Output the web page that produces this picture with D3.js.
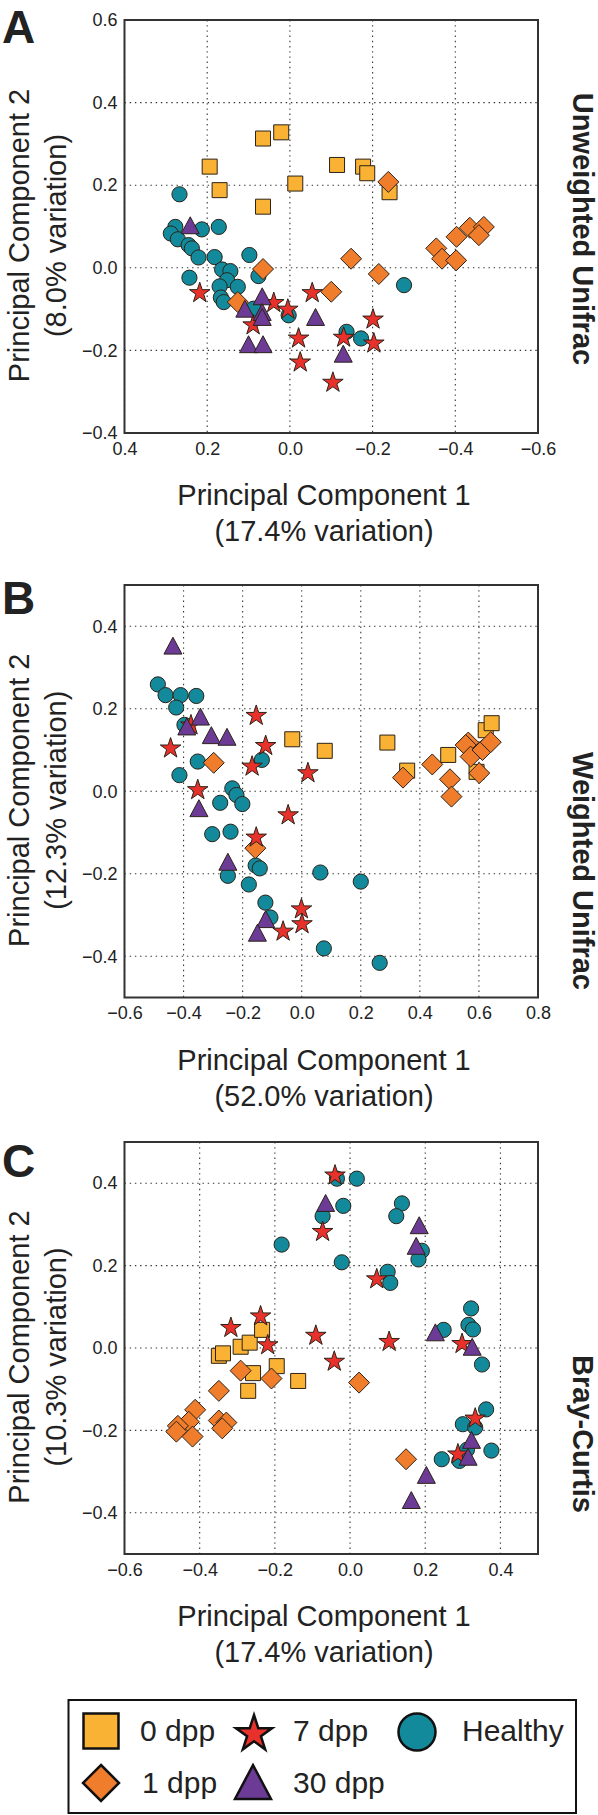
<!DOCTYPE html>
<html><head><meta charset="utf-8">
<script src="https://cdn.jsdelivr.net/npm/d3@7"></script>
<style>
body{margin:0;background:#fff}
svg{display:block}
text{font-family:"Liberation Sans",Arial,Helvetica,sans-serif;fill:#222}
</style>
</head><body>
<svg id="chart" width="598" height="1815"></svg>
<script>
// ---------- categories ----------
const groups = ["0 dpp", "1 dpp", "7 dpp", "30 dpp", "Healthy"];
const groupColors = ["#f9b233", "#f07d2c", "#e9312b", "#6c3b96", "#138a9b"];

// ---------- tick labels ----------
const aXTicks = [0.4, 0.2, 0.0, -0.2, -0.4, -0.6];
const aYTicks = [-0.4, -0.2, 0.0, 0.2, 0.4, 0.6];
const bXTicks = [-0.6, -0.4, -0.2, 0.0, 0.2, 0.4, 0.6, 0.8];
const bYTicks = [-0.4, -0.2, 0.0, 0.2, 0.4];
const cXTicks = [-0.6, -0.4, -0.2, 0.0, 0.2, 0.4];
const cYTicks = [-0.4, -0.2, 0.0, 0.2, 0.4];

// ---------- titles ----------
const panelLetters = ["A", "B", "C"];
const methodNames = ["Unweighted Unifrac", "Weighted Unifrac", "Bray-Curtis"];
const xTitles = [["Principal Component 1", "(17.4% variation)"], ["Principal Component 1", "(52.0% variation)"], ["Principal Component 1", "(17.4% variation)"]];
const yTitles = [["Principal Component 2", "(8.0% variation)"], ["Principal Component 2", "(12.3% variation)"], ["Principal Component 2", "(10.3% variation)"]];

// ---------- Panel A: Unweighted Unifrac ----------
const a0dpp = [[0.194,0.245],[0.170,0.188],[0.065,0.313],[0.021,0.328],[0.065,0.148],[-0.013,0.204],[-0.114,0.249],[-0.177,0.245],[-0.187,0.229],[-0.241,0.183]];
const a1dpp = [[-0.238,0.208],[-0.403,0.075],[-0.435,0.097],[-0.469,0.099],[-0.457,0.079],[-0.354,0.047],[-0.368,0.022],[-0.402,0.018],[-0.148,0.022],[-0.215,-0.015],[-0.100,-0.058],[0.065,-0.003],[0.126,-0.083]];
const a7dpp = [[0.218,-0.061],[0.039,-0.085],[0.005,-0.101],[-0.054,-0.061],[0.089,-0.139],[-0.021,-0.171],[-0.025,-0.229],[-0.104,-0.278],[-0.201,-0.125],[-0.130,-0.169],[-0.203,-0.183]];
const a30dpp = [[0.241,0.103],[0.067,-0.069],[0.109,-0.099],[0.067,-0.107],[0.067,-0.119],[0.100,-0.185],[0.065,-0.185],[-0.062,-0.119],[-0.129,-0.208]];
const aHealthy = [[0.267,0.178],[0.277,0.099],[0.288,0.083],[0.271,0.069],[0.213,0.093],[0.172,0.099],[0.245,0.055],[0.237,0.047],[0.221,0.025],[0.182,0.026],[0.098,0.031],[0.164,-0.004],[0.144,-0.008],[0.243,-0.024],[0.152,-0.030],[0.170,-0.045],[0.126,-0.046],[0.167,-0.072],[0.160,-0.083],[0.076,-0.020],[0.088,-0.099],[0.003,-0.115],[-0.276,-0.042],[-0.137,-0.155],[-0.172,-0.171]];

// ---------- Panel B: Weighted Unifrac ----------
const b0dpp = [[-0.032,0.126],[0.078,0.098],[0.290,0.118],[0.357,0.050],[0.496,0.088],[0.623,0.148],[0.643,0.165],[0.592,0.047]];
const b1dpp = [[-0.298,0.069],[-0.157,-0.138],[0.343,0.033],[0.442,0.065],[0.502,0.029],[0.507,-0.013],[0.564,0.118],[0.555,0.112],[0.572,0.084],[0.612,0.100],[0.640,0.119],[0.601,0.044]];
const b7dpp = [[-0.444,0.104],[-0.375,0.160],[-0.352,0.003],[-0.154,0.183],[-0.122,0.110],[-0.168,0.060],[0.021,0.044],[-0.046,-0.058],[-0.154,-0.112],[-0.001,-0.286],[0.001,-0.322],[-0.063,-0.340]];
const b30dpp = [[-0.436,0.353],[-0.389,0.157],[-0.343,0.181],[-0.306,0.136],[-0.253,0.132],[-0.348,-0.041],[-0.250,-0.171],[-0.122,-0.310],[-0.150,-0.343]];
const bHealthy = [[-0.487,0.259],[-0.461,0.233],[-0.410,0.233],[-0.357,0.231],[-0.425,0.203],[-0.397,0.161],[-0.352,0.072],[-0.414,0.039],[-0.135,0.076],[-0.235,0.007],[-0.221,-0.009],[-0.201,-0.031],[-0.276,-0.028],[-0.303,-0.104],[-0.241,-0.098],[-0.156,-0.180],[-0.142,-0.187],[-0.250,-0.205],[-0.179,-0.226],[-0.123,-0.270],[-0.106,-0.306],[0.063,-0.197],[0.075,-0.381],[0.200,-0.219],[0.264,-0.416]];

// ---------- Panel C: Bray-Curtis ----------
const c0dpp = [[-0.349,-0.019],[-0.338,-0.013],[-0.291,0.003],[-0.267,0.013],[-0.234,0.044],[-0.195,-0.044],[-0.258,-0.061],[-0.271,-0.104],[-0.138,-0.080]];
const c1dpp = [[0.024,-0.084],[0.149,-0.270],[-0.291,-0.055],[-0.209,-0.074],[-0.349,-0.104],[-0.412,-0.150],[-0.429,-0.179],[-0.458,-0.189],[-0.462,-0.203],[-0.419,-0.215],[-0.349,-0.176],[-0.329,-0.181],[-0.340,-0.195]];
const c7dpp = [[-0.040,0.419],[-0.073,0.282],[-0.317,0.049],[-0.238,0.077],[-0.219,0.007],[-0.091,0.030],[-0.042,-0.033],[0.071,0.167],[0.104,0.015],[0.298,0.010],[0.333,-0.171],[0.287,-0.258]];
const c30dpp = [[-0.065,0.352],[0.184,0.298],[0.176,0.248],[0.227,0.038],[0.325,0.003],[0.323,-0.223],[0.314,-0.264],[0.203,-0.308],[0.163,-0.369]];
const cHealthy = [[-0.182,0.251],[-0.073,0.320],[-0.035,0.411],[-0.022,0.208],[0.018,0.411],[-0.018,0.345],[0.138,0.351],[0.123,0.320],[0.191,0.236],[0.182,0.215],[0.100,0.185],[0.107,0.158],[0.249,0.044],[0.322,0.096],[0.315,0.056],[0.327,0.045],[0.351,-0.040],[0.362,-0.149],[0.300,-0.185],[0.333,-0.193],[0.376,-0.249],[0.244,-0.270],[0.291,-0.274],[0.311,-0.247]];

// ---------- marker shapes ----------
function shapePath(kind, s) {
  if (kind === "square") return `M${-s},${-s}H${s}V${s}H${-s}Z`;
  if (kind === "diamond") return `M0,${-s}L${s},0L0,${s}L${-s},0Z`;
  if (kind === "triangle") { const w = s, h = s * 0.94; return `M0,${-h}L${w},${h}L${-w},${h}Z`; }
  if (kind === "star") {
    const pts = [];
    for (let i = 0; i < 10; i++) {
      const r = i % 2 === 0 ? s : s * 0.382;
      const a = -Math.PI / 2 + i * Math.PI / 5;
      pts.push([r * Math.cos(a), r * Math.sin(a)]);
    }
    return "M" + pts.map(p => p[0].toFixed(2) + "," + p[1].toFixed(2)).join("L") + "Z";
  }
  return `M${s},0A${s},${s},0,1,1,${-s},0A${s},${s},0,1,1,${s},0Z`;
}
const groupShapes = ["square", "diamond", "star", "triangle", "circle"];
const plotSizes = [7.5, 10.5, 10.8, 9, 7.6];
const legendSizes = [17.5, 18, 19, 18, 18.5];

const svg = d3.select("#chart");
const L = 124.5, R = 538;
const fmt = d3.format(".1f");

const panels = [
  {top: 20, bottom: 433, xDom: [0.4, -0.6], yDom: [-0.4, 0.6], xt: aXTicks, yt: aYTicks,
   series: [a0dpp, a1dpp, a7dpp, a30dpp, aHealthy], letterY: 43, methodY: 229},
  {top: 585, bottom: 997.5, xDom: [-0.6, 0.8], yDom: [-0.5, 0.5], xt: bXTicks, yt: bYTicks,
   series: [b0dpp, b1dpp, b7dpp, b30dpp, bHealthy], letterY: 614, methodY: 871},
  {top: 1142, bottom: 1554, xDom: [-0.6, 0.5], yDom: [-0.5, 0.5], xt: cXTicks, yt: cYTicks,
   series: [c0dpp, c1dpp, c7dpp, c30dpp, cHealthy], letterY: 1177, methodY: 1434}
];

const drawOrder = [4, 0, 1, 2, 3];

panels.forEach((p, pi) => {
  const x = d3.scaleLinear().domain(p.xDom).range([L, R]);
  const y = d3.scaleLinear().domain(p.yDom).range([p.bottom, p.top]);
  const g = svg.append("g");

  g.selectAll(".vg").data(p.xt).join("line")
    .attr("x1", d => x(d)).attr("x2", d => x(d)).attr("y1", p.top).attr("y2", p.bottom)
    .attr("stroke", "#333").attr("stroke-width", 1.1).attr("stroke-dasharray", "1.4,3.8");
  g.selectAll(".hg").data(p.yt).join("line")
    .attr("y1", d => y(d)).attr("y2", d => y(d)).attr("x1", L).attr("x2", R)
    .attr("stroke", "#333").attr("stroke-width", 1.1).attr("stroke-dasharray", "1.4,3.8");

  const xa = g.append("g").attr("transform", `translate(0,${p.bottom})`)
    .call(d3.axisBottom(x).tickValues(p.xt).tickFormat(fmt).tickSize(0).tickPadding(9));
  const ya = g.append("g").attr("transform", `translate(${L},0)`)
    .call(d3.axisLeft(y).tickValues(p.yt).tickFormat(fmt).tickSize(0).tickPadding(7));
  [xa, ya].forEach(a => {
    a.select(".domain").remove();
    a.selectAll("text").attr("font-size", 18).attr("fill", "#222")
      .style("font-family", '"Liberation Sans",Arial,sans-serif');
  });

  drawOrder.forEach(gi => {
    g.append("g").selectAll("path").data(p.series[gi]).join("path")
      .attr("d", shapePath(groupShapes[gi], plotSizes[gi]))
      .attr("transform", d => `translate(${x(d[0])},${y(d[1])})`)
      .attr("fill", groupColors[gi]).attr("stroke", "#2b2218").attr("stroke-width", 1);
  });

  g.append("rect").attr("x", L).attr("y", p.top).attr("width", R - L).attr("height", p.bottom - p.top)
    .attr("fill", "none").attr("stroke", "#333").attr("stroke-width", 2);

  svg.append("text").attr("x", 2).attr("y", p.letterY).attr("font-size", 46)
    .attr("font-weight", "bold").attr("fill", "#111").text(panelLetters[pi]);

  const xc = 324;
  xTitles[pi].forEach((t, i) => {
    svg.append("text").attr("x", xc).attr("y", p.bottom + 72 + i * 36)
      .attr("text-anchor", "middle").attr("font-size", 29).text(t);
  });
  const yc = (p.top + p.bottom) / 2 + 9;
  yTitles[pi].forEach((t, i) => {
    svg.append("text").attr("transform", `translate(${29 + i * 37},${yc}) rotate(-90)`)
      .attr("text-anchor", "middle").attr("font-size", 29).text(t);
  });
  svg.append("text").attr("transform", `translate(573,${p.methodY}) rotate(90)`)
    .attr("text-anchor", "middle").attr("font-size", 29).attr("font-weight", "bold")
    .attr("fill", "#111").text(methodNames[pi]);
});

// ---------- legend ----------
const lg = svg.append("g");
lg.append("rect").attr("x", 68.5).attr("y", 1700).attr("width", 507.5).attr("height", 113)
  .attr("fill", "#fff").attr("stroke", "#111").attr("stroke-width", 2);
const legendPos = [[101, 1731, 140, 1741], [101, 1783, 142, 1793], [254, 1734, 293, 1741], [253, 1782, 293, 1793], [417, 1732, 462, 1741]];
groups.forEach((name, gi) => {
  const lp = legendPos[gi];
  lg.append("path").attr("d", shapePath(groupShapes[gi], legendSizes[gi]))
    .attr("transform", `translate(${lp[0]},${lp[1]})`)
    .attr("fill", groupColors[gi]).attr("stroke", "#111").attr("stroke-width", 2.5);
  lg.append("text").attr("x", lp[2]).attr("y", lp[3]).attr("font-size", 30).text(name);
});
</script>
</body></html>
